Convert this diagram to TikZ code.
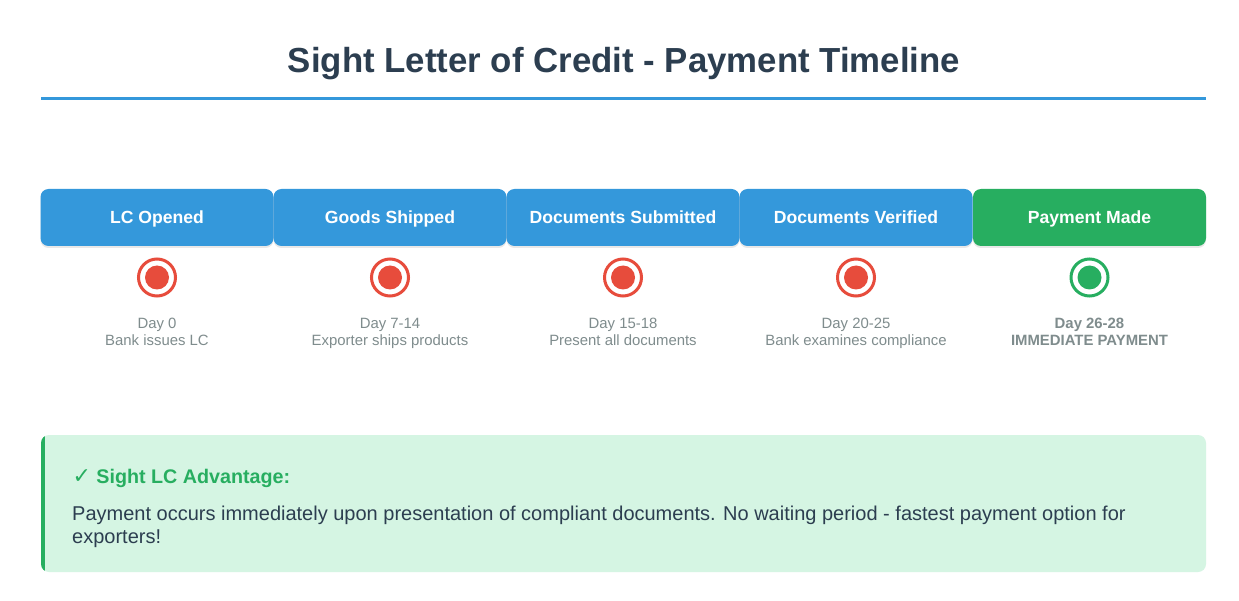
\documentclass[tikz,border=0pt]{standalone}
\usepackage{fontspec}
\setmainfont{Liberation Sans}
\newfontfamily\symfont{DejaVu Sans}
\usetikzlibrary{shadows}
\definecolor{tblue}{HTML}{3498DB}
\definecolor{tgreen}{HTML}{27AE60}
\definecolor{tred}{HTML}{E74C3C}
\definecolor{tdark}{HTML}{2C3E50}
\definecolor{tgray}{HTML}{7F8C8D}
\definecolor{tlight}{HTML}{D5F5E3}
\tikzset{
  x=1pt,y=-1pt,
  stagebox/.style={rounded corners=8pt, minimum width=233pt, minimum height=57pt, inner sep=0pt,
    text height=14.5pt, text depth=2.5pt,
    text=white, font=\fontsize{17.6}{20}\selectfont\bfseries,
    drop shadow={shadow xshift=0pt, shadow yshift=-2pt, opacity=0.18}},
  ring/.style={circle, line width=3pt, minimum size=37pt, inner sep=0pt, fill=white},
  dot/.style={circle, minimum size=24pt, inner sep=0pt},
  daytext/.style={align=center, text=tgray, font=\fontsize{14.9}{17}\selectfont, anchor=north}
}
\begin{document}
\begin{tikzpicture}
\useasboundingbox (0,0) rectangle (1239,601);
\fill[white] (0,0) rectangle (1239,601);
% title
\node[text=tdark, font=\fontsize{34.8}{40}\selectfont\bfseries] (title) at (624,63.5) {Sight Letter of Credit - Payment Timeline};
\draw[tblue, line width=3pt] (41,98.5) -- (1206,98.5);
% stages
\foreach \i/\x/\lab/\col/\dayA/\dayB/\bf in {
  1/157/LC Opened/tblue/Day 0/Bank issues LC/,
  2/390/Goods Shipped/tblue/Day 7-14/Exporter ships products/,
  3/623/Documents Submitted/tblue/Day 15-18/Present all documents/,
  4/856/Documents Verified/tblue/Day 20-25/Bank examines compliance/,
  5/1089.5/Payment Made/tgreen/Day 26-28/IMMEDIATE PAYMENT/\bfseries}{
  \node[stagebox, fill=\col] (s\i) at (\x,217.5) {\lab};
  \ifnum\i=5 \def\rc{tgreen}\else\def\rc{tred}\fi
  \node[ring, draw=\rc] (r\i) at (\x,277.5) {};
  \node[dot, fill=\rc] (d\i) at (r\i.center) {};
  \node[daytext] (t\i) at (\x,315) {\bf\dayA\\\bf\dayB};
}
% advantage box
\fill[tlight, rounded corners=8pt] (41,435) rectangle (1206,572);
\begin{scope}
\clip[rounded corners=8pt] (41,435) rectangle (1206,572);
\fill[tgreen] (41,435) rectangle (45,572);
\end{scope}
\node[anchor=west, text=tgreen, font=\fontsize{19.7}{22}\selectfont\bfseries] (adv) at (69,478) {{\symfont\bfseries\fontsize{22}{22}\selectfont ✓}\ Sight LC Advantage:};
\node[anchor=north west, align=left, text=tdark, font=\fontsize{20}{23}\selectfont, inner sep=0pt] (body) at (72,506)
 {Payment occurs immediately upon presentation of compliant documents. No waiting period - fastest payment option for\\exporters!};
\end{tikzpicture}
\end{document}
